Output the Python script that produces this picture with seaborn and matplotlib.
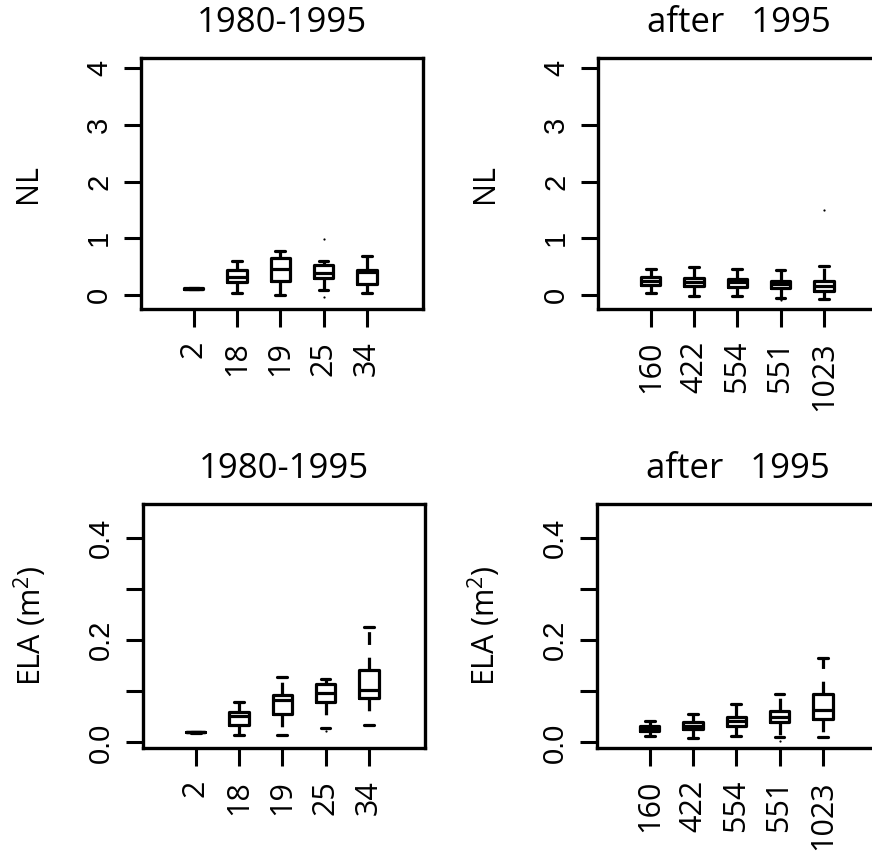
import numpy as np
import pandas as pd
import matplotlib
matplotlib.use("Agg")
import matplotlib.pyplot as plt
import seaborn as sns

# ==========================================
# Values
# boxes: lower whisker, Q1, median, Q3, upper whisker
# ==========================================

early_cats = ["2", "18", "19", "25", "34"]
late_cats = ["160", "422", "554", "551", "1023"]

# NL, 1980-1995
nl_early_lo = [0.10, 0.04, 0.00, 0.08, 0.03]
nl_early_q1 = [0.105, 0.22, 0.25, 0.30, 0.20]
nl_early_med = [0.11, 0.32, 0.45, 0.39, 0.41]
nl_early_q3 = [0.115, 0.43, 0.645, 0.53, 0.44]
nl_early_hi = [0.12, 0.60, 0.77, 0.60, 0.68]
nl_early_out_cat = ["25", "25"]
nl_early_out_val = [0.99, -0.03]

# NL, after 1995
nl_late_lo = [0.04, -0.02, -0.02, -0.05, -0.08]
nl_late_q1 = [0.18, 0.15, 0.13, 0.12, 0.07]
nl_late_med = [0.25, 0.235, 0.22, 0.19, 0.15]
nl_late_q3 = [0.31, 0.29, 0.28, 0.25, 0.25]
nl_late_hi = [0.46, 0.49, 0.46, 0.435, 0.51]
nl_late_out_cat = ["551", "1023"]
nl_late_out_val = [-0.09, 1.50]

# ELA, 1980-1995
ela_early_lo = [0.019, 0.014, 0.015, 0.029, 0.034]
ela_early_q1 = [0.0195, 0.034, 0.056, 0.079, 0.086]
ela_early_med = [0.020, 0.051, 0.084, 0.097, 0.102]
ela_early_q3 = [0.0205, 0.059, 0.092, 0.114, 0.142]
ela_early_hi = [0.021, 0.080, 0.129, 0.124, 0.227]
ela_early_out_cat = ["25"]
ela_early_out_val = [0.022]

# ELA, after 1995
ela_late_lo = [0.013, 0.009, 0.012, 0.011, 0.011]
ela_late_q1 = [0.022, 0.026, 0.032, 0.039, 0.046]
ela_late_med = [0.028, 0.033, 0.042, 0.050, 0.064]
ela_late_q3 = [0.033, 0.040, 0.050, 0.061, 0.095]
ela_late_hi = [0.042, 0.056, 0.075, 0.094, 0.165]
ela_late_out_cat = ["551"]
ela_late_out_val = [0.003]

nl_ticks = [0, 1, 2, 3, 4]
nl_ticklabels = ["0", "1", "2", "3", "4"]
ela_ticks = [0.0, 0.1, 0.2, 0.3, 0.4]
ela_ticklabels = ["0.0", "", "0.2", "", "0.4"]

# ==========================================
# Style
# ==========================================

sns.set_style("ticks")
plt.rcParams["font.family"] = ["Open Sans", "DejaVu Sans"]
plt.rcParams["mathtext.default"] = "regular"
plt.rcParams["axes.edgecolor"] = "black"
plt.rcParams["text.color"] = "black"
plt.rcParams["axes.labelcolor"] = "black"
plt.rcParams["xtick.color"] = "black"
plt.rcParams["ytick.color"] = "black"


def long_frame(cats, lo, q1, med, q3, hi):
    # five summary numbers per site -> quartiles come back exactly with whis=(0, 100)
    rows = []
    for i, c in enumerate(cats):
        for v in (lo[i], q1[i], med[i], q3[i], hi[i]):
            rows.append({"site": c, "value": v})
    return pd.DataFrame(rows)


def draw_panel(ax, cats, lo, q1, med, q3, hi, out_cat, out_val,
               title, ylabel, ylim, yticks, yticklabels):
    df = long_frame(cats, lo, q1, med, q3, hi)
    sns.boxplot(data=df, x="site", y="value", order=cats, whis=(0, 100),
                width=0.45, fill=False, color="black", linewidth=2.3,
                showfliers=False, whiskerprops={"linestyle": (0, (4, 4))},
                ax=ax)
    sns.stripplot(x=out_cat, y=out_val, order=cats, jitter=False,
                  color="black", size=1.6, ax=ax)

    ax.set_xlim(-1.22, 5.3)
    ax.set_ylim(*ylim)
    ax.set_yticks(yticks)
    ax.set_yticklabels(yticklabels, family=["Liberation Sans", "DejaVu Sans"],
                       fontsize=21, rotation=90, va="center")
    ax.set_xticks(range(len(cats)))
    ax.set_xticklabels(cats, fontsize=22, rotation=90, va="top", ha="center")
    ax.set_xlabel("")
    ax.set_ylabel(ylabel, fontsize=22, va="center")
    ax.yaxis.set_label_coords(-0.40, 0.5)
    ax.set_title(title, fontsize=25, pad=19)

    for s in ax.spines.values():
        s.set_visible(True)
        s.set_linewidth(2.4)
        s.set_color("black")

    ax.tick_params(axis="x", direction="out", length=13, width=2.2, pad=10)
    ax.tick_params(axis="y", direction="out", length=12, width=2.2, pad=8)


fig = plt.figure(figsize=(8.72, 8.58), dpi=100)

ax1 = fig.add_axes([141 / 872, 1 - 309 / 858, 282 / 872, 251 / 858])
ax2 = fig.add_axes([598 / 872, 1 - 309 / 858, 282 / 872, 251 / 858])
ax3 = fig.add_axes([143 / 872, 1 - 748 / 858, 282 / 872, 244 / 858])
ax4 = fig.add_axes([597 / 872, 1 - 748 / 858, 282 / 872, 244 / 858])

draw_panel(ax1, early_cats, nl_early_lo, nl_early_q1, nl_early_med, nl_early_q3,
           nl_early_hi, nl_early_out_cat, nl_early_out_val,
           "1980-1995", "NL", (-0.25, 4.18), nl_ticks, nl_ticklabels)
draw_panel(ax2, late_cats, nl_late_lo, nl_late_q1, nl_late_med, nl_late_q3,
           nl_late_hi, nl_late_out_cat, nl_late_out_val,
           "after   1995", "NL", (-0.25, 4.18), nl_ticks, nl_ticklabels)
draw_panel(ax3, early_cats, ela_early_lo, ela_early_q1, ela_early_med, ela_early_q3,
           ela_early_hi, ela_early_out_cat, ela_early_out_val,
           "1980-1995", "ELA (m$^2$)", (-0.011, 0.467), ela_ticks, ela_ticklabels)
draw_panel(ax4, late_cats, ela_late_lo, ela_late_q1, ela_late_med, ela_late_q3,
           ela_late_hi, ela_late_out_cat, ela_late_out_val,
           "after   1995", "ELA (m$^2$)", (-0.011, 0.467), ela_ticks, ela_ticklabels)

fig.savefig("out.png", dpi=100)
